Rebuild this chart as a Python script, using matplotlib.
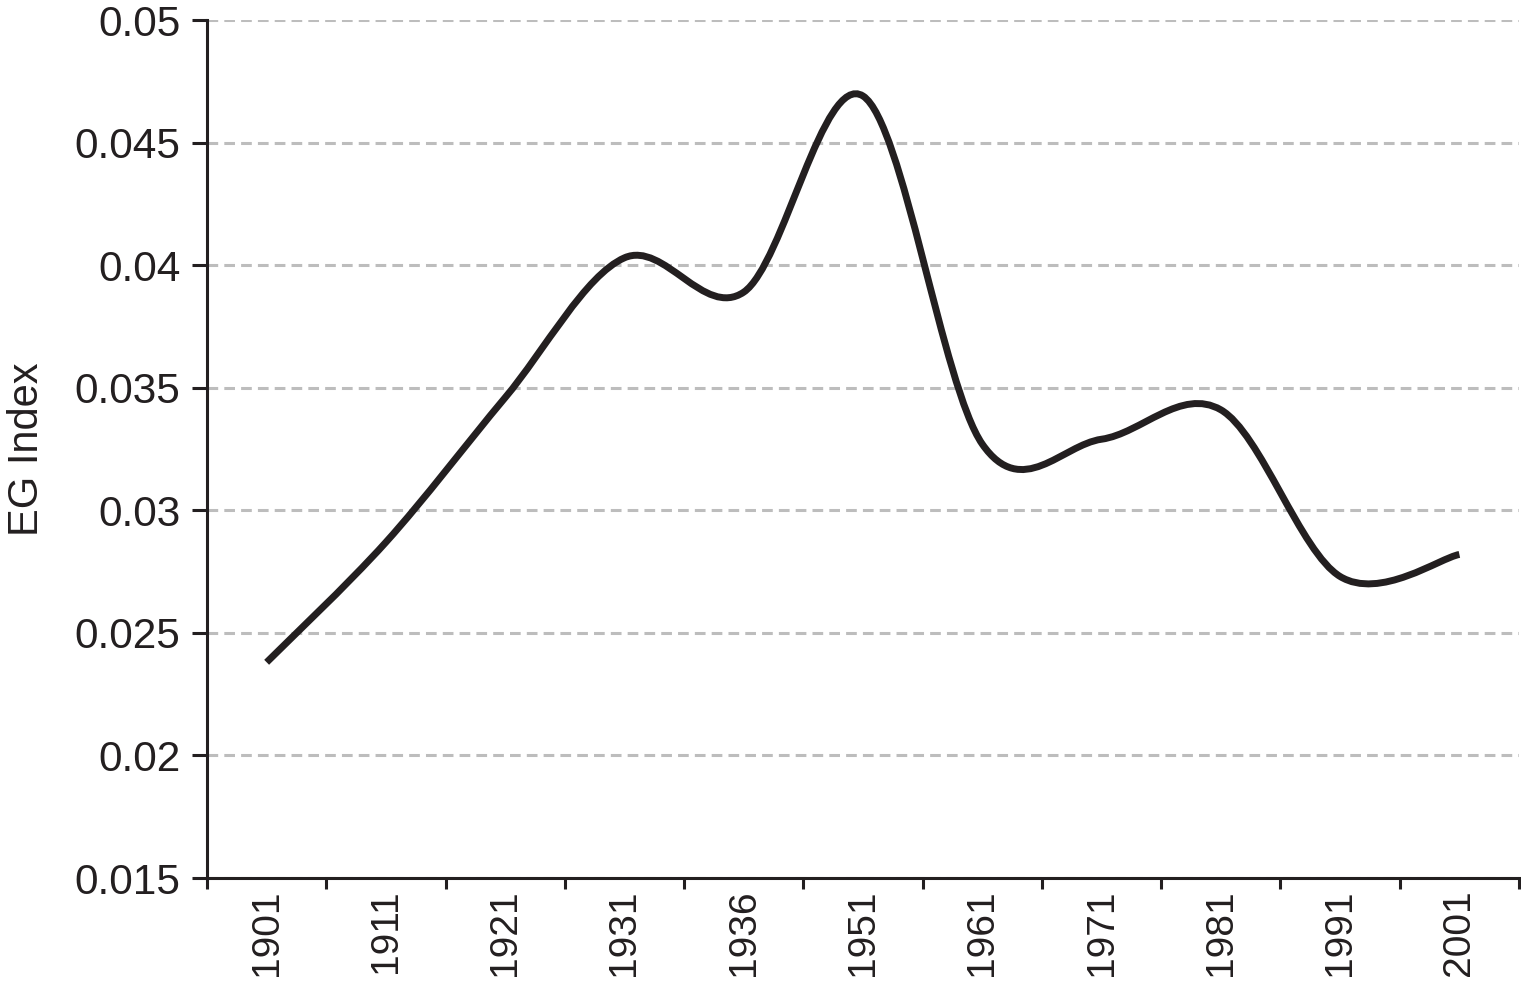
import numpy as np
import matplotlib.pyplot as plt
from matplotlib.path import Path
from matplotlib.patches import PathPatch

plt.rcParams['font.family'] = ['Liberation Sans', 'DejaVu Sans']

years = ['1901', '1911', '1921', '1931', '1936', '1951', '1961', '1971', '1981', '1991', '2001']
eg_index = [0.0238, 0.0287, 0.0346, 0.0403, 0.0389, 0.0469, 0.0327, 0.0329, 0.0341, 0.0273, 0.0282]

fig = plt.figure(figsize=(15.21, 9.86), dpi=100)
ax = fig.add_axes([0.1361, 0.1095, 0.8626, 0.8702])

x = np.arange(len(years))
ax.set_xlim(-0.5, len(years) - 0.5)
ax.set_ylim(0.015, 0.05)

# courbe lissée (Bezier type Catmull-Rom, comme Excel), calculée en pixels
ax.figure.canvas.draw()
pts = ax.transData.transform(np.column_stack([x, eg_index]))
n = len(pts)
verts = [pts[0]]
codes = [Path.MOVETO]
for i in range(n - 1):
    p0 = pts[max(i - 1, 0)]
    p1 = pts[i]
    p2 = pts[i + 1]
    p3 = pts[min(i + 2, n - 1)]
    c1 = p1 + (p2 - p0) / 6
    c2 = p2 - (p3 - p1) / 6
    verts += [c1, c2, p2]
    codes += [Path.CURVE4] * 3
verts = ax.transData.inverted().transform(np.array(verts))
curve = PathPatch(Path(verts, codes), facecolor='none', edgecolor='#231f20',
                  lw=5, capstyle='butt', zorder=3)
ax.add_patch(curve)

# grille
ax.set_yticks(np.arange(0.015, 0.0501, 0.005))
ax.set_yticklabels(['0.015', '0.02', '0.025', '0.03', '0.035', '0.04', '0.045', '0.05'])
ax.yaxis.grid(True, color='#bdbdbd', linestyle=(0, (3.5, 2)), lw=2.2)
ax.set_axisbelow(True)

# ticks de l'axe x entre les catégories, étiquettes au centre
ax.set_xticks(np.arange(-0.5, len(years), 1.0))
ax.set_xticklabels([])
ax.set_xticks(x, minor=True)
ax.set_xticklabels(years, minor=True, rotation=90, fontsize=28, color='#231f20')
ax.tick_params(axis='x', which='major', length=8, width=2.2, direction='out', color='#231f20')
ax.tick_params(axis='x', which='minor', length=0, pad=8)
ax.tick_params(axis='y', length=11, width=2.2, direction='out', labelsize=30.5,
               color='#231f20', labelcolor='#231f20', pad=8)

for s in ['top', 'right']:
    ax.spines[s].set_visible(False)
for s in ['left', 'bottom']:
    ax.spines[s].set_linewidth(2.2)
    ax.spines[s].set_color('#231f20')

ax.set_ylabel('EG Index', fontsize=30, color='#231f20', labelpad=20)

fig.savefig('out.png', dpi=100)
